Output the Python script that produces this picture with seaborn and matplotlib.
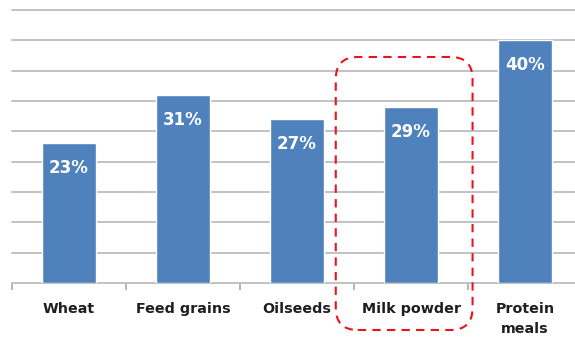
import numpy as np
import pandas as pd
import matplotlib.pyplot as plt
import seaborn as sns
from matplotlib.patches import FancyBboxPatch
from matplotlib.transforms import IdentityTransform

# data
categories = ["Wheat", "Feed grains", "Oilseeds", "Milk powder", "Protein\nmeals"]
shares = [23, 31, 27, 29, 40]
highlight = "Milk powder"

BAR_COLOR = "#4f81bd"
GRID_COLOR = "#bdbdbd"

df = pd.DataFrame({"category": categories, "share": shares})

sns.set_style("white")
fig = plt.figure(figsize=(5.75, 3.41), dpi=100)
ax = fig.add_axes([12 / 575, 58 / 341, 570 / 575, 273 / 341])

sns.barplot(data=df, x="category", y="share", color=BAR_COLOR,
            saturation=1, width=0.47, ax=ax, zorder=3)

ax.set_ylim(0, 45)
ax.set_xlim(-0.5, len(categories) - 0.5)
ax.set_yticks(np.arange(5, 46, 5))
ax.yaxis.grid(True, color=GRID_COLOR, linewidth=1.3, zorder=0)
for line in ax.get_ygridlines():
    line.set_clip_on(False)
ax.tick_params(axis="y", left=False, labelleft=False)
ax.set_xlabel("")
ax.set_ylabel("")

for side in ["left", "right", "top"]:
    ax.spines[side].set_visible(False)
ax.spines["bottom"].set_color(GRID_COLOR)
ax.spines["bottom"].set_linewidth(1.3)

# category boundary ticks under the axis
ax.set_xticks(np.arange(-0.5, len(categories), 1), minor=True)
ax.tick_params(axis="x", which="minor", bottom=True, length=5, width=1.2,
               color="#a8a8a8", direction="out")
ax.tick_params(axis="x", which="major", bottom=True, length=0, pad=14)
for lbl in ax.get_xticklabels():
    lbl.set_fontweight("bold")
    lbl.set_fontsize(10.3)
    lbl.set_color("#1e1e1e")
    lbl.set_linespacing(1.55)

# value labels inside the bars
for i, v in enumerate(shares):
    ax.annotate(f"{v}%", xy=(i, v), xytext=(0, -18), textcoords="offset points",
                ha="center", va="center", color="white", fontweight="bold",
                fontsize=12, zorder=4)

# dashed rounded box around the highlighted category
fig.canvas.draw()
hi = categories.index(highlight)
x0, _ = ax.transData.transform((hi - 0.66, 0))
x1, _ = ax.transData.transform((hi + 0.54, 0))
y1 = 341 - 57
y0 = 341 - 330
box = FancyBboxPatch((x0, y0), x1 - x0, y1 - y0,
                     boxstyle="round,pad=0,rounding_size=22",
                     transform=IdentityTransform(), fill=False,
                     edgecolor="#e8141a", linestyle=(0, (4, 3)), linewidth=1.5,
                     zorder=10)
fig.patches.append(box)

fig.savefig("out.png", dpi=100)
